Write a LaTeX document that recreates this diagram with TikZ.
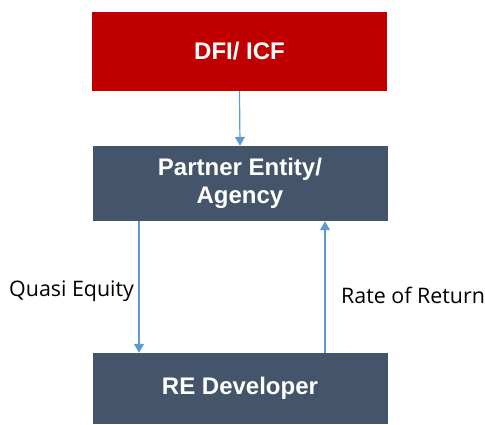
\documentclass[tikz,border=0pt]{standalone}
\usepackage{fontspec}
\setmainfont{Liberation Sans}
\newfontfamily\labfont{Open Sans}
\usetikzlibrary{arrows.meta}
\definecolor{dfired}{HTML}{C00000}
\definecolor{boxblue}{HTML}{44546A}
\definecolor{arrblue}{HTML}{5B9BD5}
\tikzset{
  box/.style={draw=none, minimum width=295pt, inner sep=0pt, text=white, font=\fontsize{24}{28}\selectfont\bfseries, align=center},
  arr/.style={draw=arrblue, line width=1.2pt, -{Triangle[width=10pt,length=9pt]}},
  lab/.style={anchor=west, inner sep=0pt, font=\labfont\fontsize{21.4}{25}\selectfont, text=black}
}
\begin{document}
\begin{tikzpicture}[x=1pt,y=-1pt]
\useasboundingbox (0,0) rectangle (485,424);
\node[box, fill=dfired, minimum height=79pt] (dfi) at (239.5,51.5) {DFI/ ICF};
\node[box, fill=boxblue, minimum height=75pt] (pe) at (240,183.5) {Partner Entity/\\Agency};
\node[box, fill=boxblue, minimum height=71pt] (re) at (240,388.5) {RE Developer};
\draw[arr] (dfi.south) -- (pe.north);
\draw[arr] ([xshift=-101pt]pe.south) -- ([xshift=-101pt]re.north);
\draw[arr] ([xshift=85pt]re.north) -- ([xshift=85pt]pe.south);
\node[lab] (qe) at (9,291) {Quasi Equity};
\node[lab] (rr) at (341,295) {Rate of Return};
\end{tikzpicture}
\end{document}
